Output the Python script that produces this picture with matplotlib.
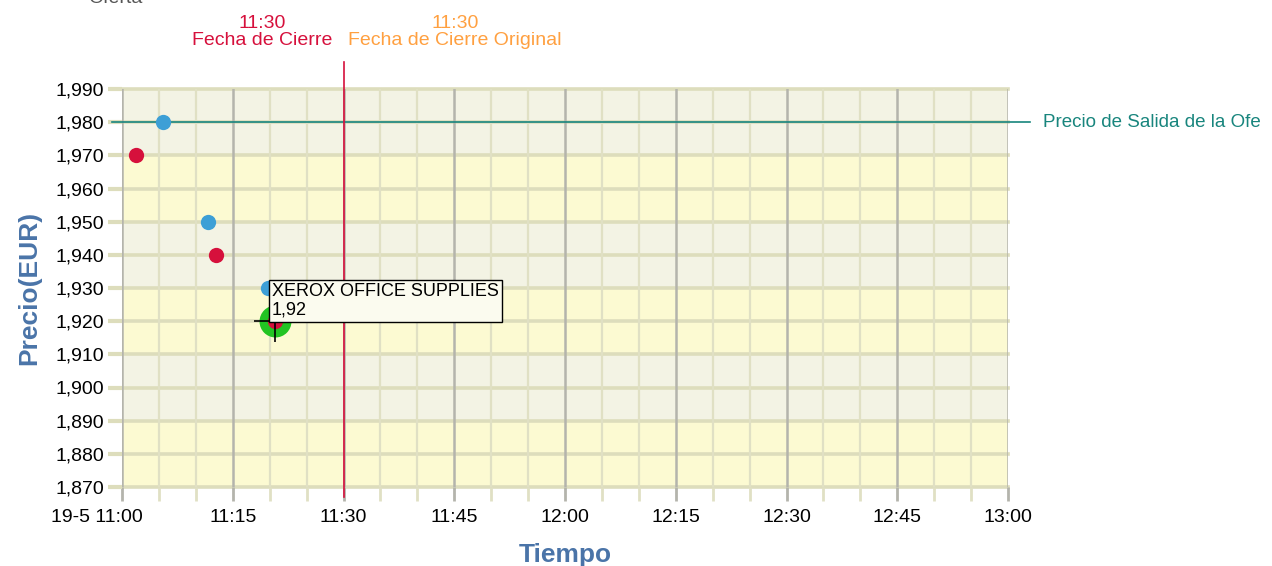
import numpy as np
import matplotlib
matplotlib.use("Agg")
import matplotlib.pyplot as plt
from matplotlib.transforms import blended_transform_factory, ScaledTranslation

plt.rcParams['font.family'] = ['Liberation Sans', 'DejaVu Sans']

# ── Datos (minutos desde las 11:00) ───────────────────────────────────
ofertas_min = [5.6, 11.7, 19.8]
ofertas_precio = [1.980, 1.950, 1.930]
pujas_min = [1.9, 12.7, 20.7]
pujas_precio = [1.970, 1.940, 1.920]

sel_nombre = "XEROX OFFICE SUPPLIES"
sel_min, sel_precio = 20.7, 1.920
precio_salida = 1.980
cierre_min = 30

x_ticks = [0, 15, 30, 45, 60, 75, 90, 105, 120]
x_labels = ["19-5 11:00", "11:15", "11:30", "11:45", "12:00",
            "12:15", "12:30", "12:45", "13:00"]
x_minor = [m for m in range(0, 121, 5) if m % 15]
y_ticks = [1.870, 1.880, 1.890, 1.900, 1.910, 1.920, 1.930,
           1.940, 1.950, 1.960, 1.970, 1.980, 1.990]
y_labels = [f"{v:.3f}".replace(".", ",") for v in y_ticks]
bandas = [1.870, 1.890, 1.910, 1.930, 1.950, 1.970, 1.990]

# ── Colores ───────────────────────────────────────────────────────────
AZUL = "#3d9fd6"
ROJO = "#d6103c"
VERDE = "#22c422"
TEAL = "#18857d"
NARANJA = "#ffa040"
TITULO = "#4a74a8"
GRID_H = "#ddddbc"
GRID_V_MAJ = "#b4b4ac"
GRID_V_MIN = "#e0e0c4"

fig = plt.figure(figsize=(12.72, 5.66), dpi=100)
fig.patch.set_facecolor("white")
ax = fig.add_axes([122 / 1272, 1 - 487 / 566, 886 / 1272, 398 / 566])

# bandas alternas
for i in range(len(bandas) - 1):
    col = "#fcfad2" if i % 2 == 0 else "#f3f3e4"
    ax.axhspan(bandas[i], bandas[i + 1], color=col, zorder=0, lw=0)

ax.set_xlim(0, 120)
ax.set_ylim(1.870, 1.990)

ax.set_xticks(x_ticks)
ax.set_xticklabels(x_labels, fontsize=14)
ax.set_xticks(x_minor, minor=True)
ax.set_yticks(y_ticks)
ax.set_yticklabels(y_labels, fontsize=14)

ax.tick_params(axis="x", which="major", length=10, width=2, color=GRID_V_MAJ, pad=6)
ax.tick_params(axis="x", which="minor", length=10, width=2, color=GRID_V_MIN)
ax.tick_params(axis="y", which="major", length=10, width=3, color=GRID_H, pad=3)

for y in y_ticks:
    ax.axhline(y, color=GRID_H, lw=2.6, zorder=1, clip_on=False)
for m in x_minor:
    ax.axvline(m, color=GRID_V_MIN, lw=1.6, zorder=1)
for m in x_ticks:
    ax.axvline(m, color=GRID_V_MAJ, lw=1.8, zorder=1.5)

for s in ["top", "bottom", "right", "left"]:
    ax.spines[s].set_visible(False)

# primera etiqueta desplazada ("19-5 11:00")
lbl0 = ax.xaxis.get_major_ticks()[0].label1
lbl0.set_transform(lbl0.get_transform() + ScaledTranslation(-0.25, 0, fig.dpi_scale_trans))

# precio de salida
tr_x = blended_transform_factory(ax.transAxes, ax.transData)
ax.plot([-0.011, 1.025], [precio_salida, precio_salida], color=TEAL, lw=1.2,
        transform=tr_x, clip_on=False, zorder=3)
ax.text(1.040, precio_salida, "Precio de Salida de la Ofe", color=TEAL,
        fontsize=13.5, va="center", ha="left", transform=tr_x, clip_on=False)

# fecha de cierre
tr_y = blended_transform_factory(ax.transData, ax.transAxes)
ax.plot([cierre_min, cierre_min], [-0.025, 1.068], color=ROJO, lw=1.2,
        transform=tr_y, clip_on=False, zorder=3)
fig.text(262 / 1272, 1 - 32 / 566, "11:30\nFecha de Cierre", color=ROJO,
         fontsize=14, ha="center", va="center", linespacing=1.05)
fig.text(455 / 1272, 1 - 32 / 566, "11:30\nFecha de Cierre Original", color=NARANJA,
         fontsize=14, ha="center", va="center", linespacing=1.05)
fig.text(88 / 1272, 1 - 3 / 566, "Oferta", color="#555555", fontsize=14,
         ha="left", va="baseline")

# puntos
ax.plot(ofertas_min, ofertas_precio, "o", color=AZUL, ms=11, mew=0, zorder=4)
ax.plot([sel_min], [sel_precio], "o", color=VERDE, ms=23, mew=0, zorder=4)
ax.plot(pujas_min, pujas_precio, "o", color=ROJO, ms=11, mew=0, zorder=5)
ax.plot([sel_min], [sel_precio], "+", color="black", ms=30, mew=1.2, zorder=6)

ax.annotate(f"{sel_nombre}\n{sel_precio:.2f}".replace(".", ","),
            xy=(sel_min, sel_precio), xytext=(-2, 2), textcoords="offset points",
            ha="left", va="bottom", fontsize=13, linespacing=1.1, zorder=7,
            bbox=dict(boxstyle="square,pad=0.18", fc="#fbfbef", ec="black", lw=1))

ax.set_xlabel("Tiempo", fontsize=19, fontweight="bold", color=TITULO, labelpad=12)
ax.set_ylabel("Precio(EUR)", fontsize=19, fontweight="bold", color=TITULO, labelpad=10)

plt.savefig("out.png", dpi=100, facecolor="white")
